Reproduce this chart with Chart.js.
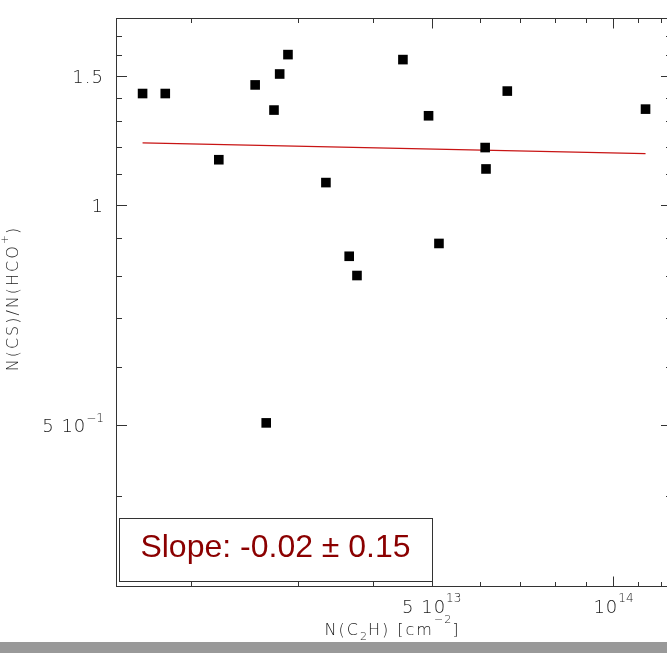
<!DOCTYPE html>
<html>
<head>
<meta charset="utf-8">
<script src="https://cdn.jsdelivr.net/npm/chart.js@4.4.1/dist/chart.umd.min.js"></script>
<style>
  html, body { margin: 0; padding: 0; overflow: hidden; background: #fff; }
  #wrap { position: relative; width: 667px; height: 653px; overflow: hidden; }
  #myChart { position: absolute; left: 0; top: 0; }
  #bar { position: absolute; left: 0; top: 642px; width: 667px; height: 11px; background: #999; }
</style>
</head>
<body>
<div id="wrap">
  <canvas id="myChart" width="690" height="642"></canvas>
  <div id="bar"></div>
</div>
<script>
// N(C2H) [cm^-2] and N(CS)/N(HCO+)
const colC2H = [1.66e13, 1.81e13, 2.22e13, 2.55e13, 2.66e13, 2.74e13, 2.80e13, 2.89e13, 3.34e13,
                3.65e13, 3.76e13, 4.48e13, 4.94e13, 5.14e13, 6.13e13, 6.15e13, 6.67e13, 1.13e14]
const csHco = [1.419, 1.419, 1.152, 1.458, 0.503, 1.347, 1.509, 1.604, 1.072,
               0.850, 0.800, 1.579, 1.323, 0.885, 1.197, 1.119, 1.430, 1.351]

// power-law fit (slope -0.02)
const fitX = [1.66e13, 1.13e14]
const fitY = [1.215, 1.174]
const slopeText = 'Slope: -0.02 \u00b1 0.15'

const xRange = [1.5e13, 1.25e14]
const yRange = [0.3, 1.8]
const xMajor = [5e13, 1e14]
const xMajorLabels = [['5 10', '13'], ['10', '14']]
const xMinor = [2e13, 3e13, 4e13, 6e13, 7e13, 8e13, 9e13, 1.1e14, 1.2e14]
const yMajor = [0.5, 1, 1.5]
const yMajorLabels = [['5 10', '\u22121'], ['1', ''], ['1.5', '']]
const yMinor = [0.4, 0.6, 0.7, 0.8, 0.9, 1.1, 1.2, 1.3, 1.4, 1.6, 1.7]

const FONT = "'DejaVu Sans', sans-serif"
const TEXT = '#1a1a1a'
const AXIS = '#333'

function drawRich(ctx, parts, x, y, align) {
    let w = 0
    for (const p of parts) {
        ctx.font = p.font
        ctx.letterSpacing = p.ls || '0px'
        w += ctx.measureText(p.t).width
    }
    let cx = align === 'center' ? x - w / 2 : align === 'right' ? x - w : x
    ctx.textAlign = 'left'
    ctx.textBaseline = 'alphabetic'
    for (const p of parts) {
        ctx.font = p.font
        ctx.letterSpacing = p.ls || '0px'
        ctx.fillText(p.t, cx, y + (p.dy || 0))
        cx += ctx.measureText(p.t).width
    }
    ctx.letterSpacing = '0px'
}

// frame, inward ticks, labels and the slope box (IDL style)
const idlAxes = {
    id: 'idlAxes',
    afterDatasetsDraw(chart) {
        const ctx = chart.ctx
        const {left, right, top, bottom} = chart.chartArea
        const xs = chart.scales.x
        const ys = chart.scales.y
        ctx.save()
        ctx.strokeStyle = AXIS
        ctx.lineWidth = 1
        ctx.strokeRect(left + 0.5, top + 0.5, right - left - 1, bottom - top - 1)

        ctx.beginPath()
        const xt = (v, len) => {
            const px = Math.round(xs.getPixelForValue(v)) + 0.5
            ctx.moveTo(px, bottom); ctx.lineTo(px, bottom - len)
            ctx.moveTo(px, top); ctx.lineTo(px, top + len)
        }
        const yt = (v, len) => {
            const py = Math.round(ys.getPixelForValue(v)) + 0.5
            ctx.moveTo(left, py); ctx.lineTo(left + len, py)
            ctx.moveTo(right, py); ctx.lineTo(right - len, py)
        }
        xMinor.forEach(v => xt(v, 5))
        xMajor.forEach(v => xt(v, 10.5))
        yMinor.forEach(v => yt(v, 6))
        yMajor.forEach(v => yt(v, 11))
        ctx.stroke()

        ctx.fillStyle = TEXT
        const big = `200 18px ${FONT}`
        const sup = `200 12px ${FONT}`
        xMajor.forEach((v, i) => {
            const px = xs.getPixelForValue(v)
            drawRich(ctx, [
                {t: xMajorLabels[i][0], font: big, ls: '1px'},
                {t: xMajorLabels[i][1], font: sup, dy: -11}
            ], px, 613, 'center')
        })
        yMajor.forEach((v, i) => {
            const py = ys.getPixelForValue(v)
            drawRich(ctx, [
                {t: yMajorLabels[i][0], font: big, ls: '1px'},
                {t: yMajorLabels[i][1], font: sup, dy: -10}
            ], 104, py + 7, 'right')
        })

        // axis titles
        const tf = `200 16px ${FONT}`
        const ts = `200 11px ${FONT}`
        drawRich(ctx, [
            {t: 'N(C', font: tf, ls: '2px'},
            {t: '2', font: ts, dy: 5, ls: '1px'},
            {t: 'H) [cm', font: tf, ls: '2px'},
            {t: '\u22122', font: ts, dy: -12, ls: '1px'},
            {t: ']', font: tf}
        ], (left + 667) / 2, 635, 'center')

        ctx.save()
        ctx.translate(18, (top + bottom) / 2 - 3)
        ctx.rotate(-Math.PI / 2)
        drawRich(ctx, [
            {t: 'N(CS)/N(HCO', font: tf, ls: '2px'},
            {t: '+', font: ts, dy: -10, ls: '1px'},
            {t: ')', font: tf}
        ], 0, 0, 'center')
        ctx.restore()

        // slope box
        const bx0 = left + 3, bx1 = Math.round(xs.getPixelForValue(5e13))
        const by0 = 518, by1 = 581
        ctx.fillStyle = '#fff'
        ctx.fillRect(bx0, by0, bx1 - bx0, by1 - by0)
        ctx.strokeStyle = AXIS
        ctx.strokeRect(bx0 + 0.5, by0 + 0.5, bx1 - bx0, by1 - by0)
        ctx.fillStyle = '#8b0000'
        ctx.font = "32px 'Liberation Sans', Arial, sans-serif"
        ctx.textAlign = 'center'
        ctx.fillText(slopeText, (bx0 + bx1) / 2, 557)
        ctx.restore()
    }
}

const canvas = document.getElementById('myChart')
const points = colC2H.map((x, i) => ({x, y: csHco[i]}))
const fit = fitX.map((x, i) => ({x, y: fitY[i]}))

const config = {
    type: 'scatter',
    data: {
        datasets: [{
            label: 'sources',
            data: points,
            pointStyle: 'rect',
            pointRadius: 6.8,
            borderWidth: 0,
            backgroundColor: '#000'
        }, {
            label: 'fit',
            data: fit,
            showLine: true,
            pointRadius: 0,
            borderColor: '#c81414',
            borderWidth: 1.2
        }]
    },
    options: {
        responsive: false,
        animation: false,
        events: [],
        layout: {
            padding: {left: 116, top: 18, right: 18, bottom: 55}
        },
        scales: {
            x: {type: 'logarithmic', min: xRange[0], max: xRange[1], display: false},
            y: {type: 'logarithmic', min: yRange[0], max: yRange[1], display: false}
        },
        plugins: {
            legend: {display: false},
            tooltip: {enabled: false}
        }
    },
    plugins: [idlAxes]
}

const myChart = new Chart(canvas, config)
</script>
</body>
</html>
